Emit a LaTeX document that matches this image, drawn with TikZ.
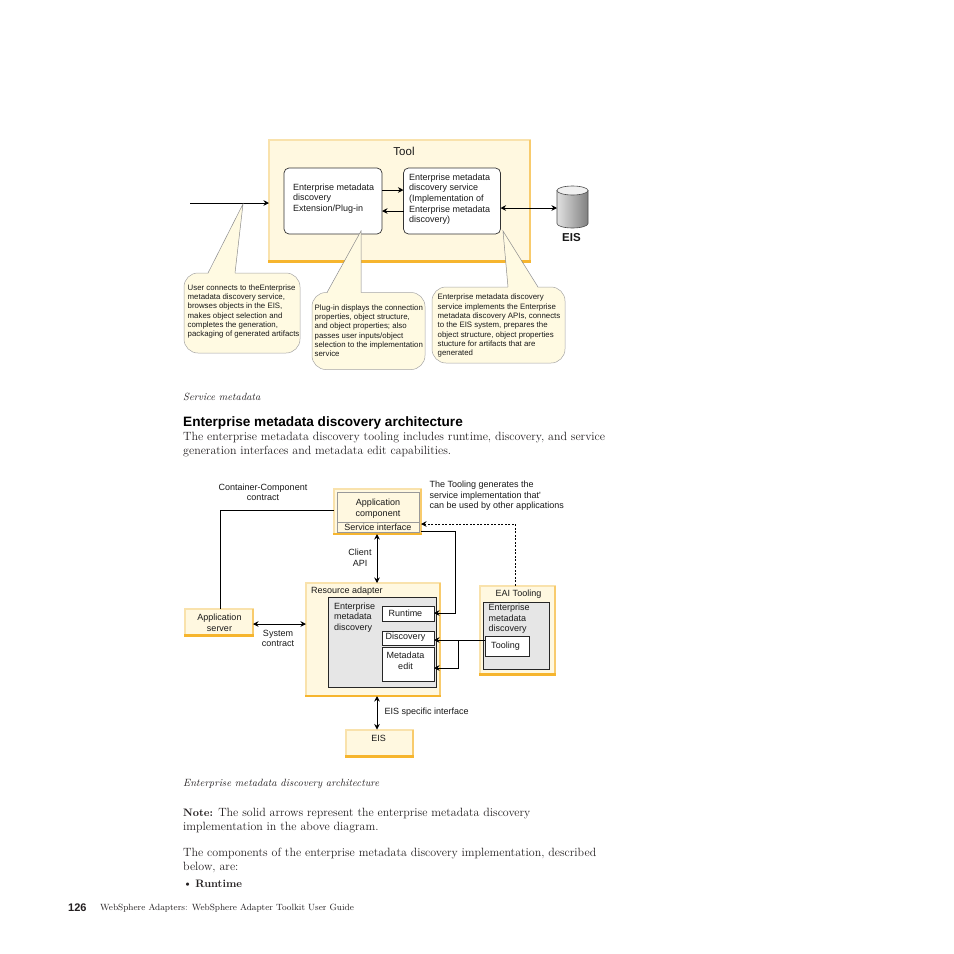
\documentclass[tikz,border=0pt]{standalone}
\usepackage{fontspec}
\usepackage{xcolor}
\usepackage{tikz}
\usetikzlibrary{arrows.meta}
\newfontfamily\diagfont{Liberation Sans}
\definecolor{cream}{HTML}{FFF8E0}
\definecolor{palegold}{HTML}{F9E2AC}
\definecolor{deepgold}{HTML}{F6B52E}
\definecolor{notefill}{HTML}{FFFAE2}
\definecolor{panelgray}{HTML}{E6E6E6}
\definecolor{pagetext}{HTML}{231F20}
\newcommand{\labfont}{\diagfont\fontsize{9}{10.6}\selectfont}
\newcommand{\notefont}{\diagfont\fontsize{7.85}{9.3}\selectfont}
\newcommand{\bodyfont}{\fontsize{11.95}{14}\selectfont}
\tikzset{
	panel/.style={draw=palegold, line width=2pt, fill=cream, inner sep=0pt, outer sep=0pt,
		append after command={
			(\tikzlastnode.south east) edge[palegold!50!deepgold, line width=2pt] (\tikzlastnode.north east)
			(\tikzlastnode.south west) edge[deepgold, line width=2.4pt, line cap=rect] (\tikzlastnode.south east)
		}},
	roundbox/.style={draw=black!80, fill=white, rounded corners=5pt, line width=0.7pt, inner sep=0pt, outer sep=0pt},
	notebox/.style={draw=black!35, fill=notefill, rounded corners=14pt, line width=0.5pt, inner sep=0pt, outer sep=0pt},
	tail/.style={draw=black!45, line width=0.5pt},
	plainbox/.style={draw=black!85, fill=white, line width=0.8pt, inner sep=0pt, outer sep=0pt},
	grayroom/.style={draw=black!85, fill=panelgray, line width=0.8pt, inner sep=0pt, outer sep=0pt},
	lab/.style={anchor=north west, inner sep=0pt, align=left, font=\labfont, text=black!90},
	clab/.style={anchor=center, inner sep=0pt, align=center, font=\labfont, text=black!90},
	notetext/.style={anchor=north west, inner sep=0pt, align=left, font=\notefont, text=black!90},
	pagetxt/.style={anchor=west, inner sep=0pt, align=left, font=\bodyfont, text=pagetext},
	link/.style={line width=0.9pt, black},
	both/.style={link, {Stealth[length=5.5pt,width=5.5pt]}-{Stealth[length=5.5pt,width=5.5pt]}},
	toend/.style={link, -{Stealth[length=5.5pt,width=5.5pt]}},
}
\begin{document}
\begin{tikzpicture}[x=1pt,y=-1pt]
	\useasboundingbox[fill=white] (0,0) rectangle (954,954);
	% top diagram
	\node (tool) [panel, minimum width=261, minimum height=122] at (399.5,200.5) {};
	\node (toolname) [clab, font=\diagfont\fontsize{11.5}{13}\selectfont] at (404,151) {Tool};
	\node (plugin) [roundbox, minimum width=98, minimum height=66] at (333,201) {};
	\node (service) [roundbox, minimum width=97, minimum height=66] at (452,201) {};
	\node (plugintext) [lab] at (293,183.5) {Enterprise metadata\\discovery\\Extension/Plug-in};
	\node (servicetext) [lab] at (409,173.5) {Enterprise metadata\\discovery service\\(Implementation of\\Enterprise metadata\\discovery)};
	\node (eisdb) [minimum width=31, minimum height=42, inner sep=0pt, outer sep=0pt] at (572.5,207) {};
	\shade[left color=black!12, right color=black!50, draw=black!70, line width=0.6pt] (557,190.5) -- (557,223.5) arc[start angle=180, end angle=0, x radius=15.5, y radius=4.5] -- (588,190.5) -- cycle;
	\fill[black!6, draw=black!70, line width=0.6pt] (572.5,190.5) ellipse (15.5 and 4.5);
	\node (eislabel) [clab, font=\diagfont\bfseries\fontsize{11.5}{13}\selectfont] at (571.5,238) {EIS};
	\coordinate (userstart) at (190,203);
	\draw[toend] (userstart) -- (tool.west |- userstart);
	\draw[toend] (plugin.east |- 0,190) -- (service.west |- 0,190);
	\draw[toend] (service.west |- 0,211) -- (plugin.east |- 0,211);
	\draw[both] (service.east |- 0,208) -- (eisdb.west |- 0,208);
	% the three notes
	\node (usernote) [notebox, minimum width=116, minimum height=80] at (242,313) {};
	\coordinate (usertip) at (243,204);
	\fill[notefill] (usertip) -- (208,274) -- (235,274) -- cycle;
	\draw[tail] (208,273) -- (usertip) -- (235,273);
	\node (usernotetext) [notetext] at (187.5,284.5) {User connects to theEnterprise\\metadata discovery service,\\browses objects in the EIS,\\makes object selection and\\completes the generation,\\packaging of generated artifacts};
	\node (plugnote) [notebox, minimum width=113, minimum height=77] at (368.5,331) {};
	\coordinate (plugtip) at (361,231);
	\fill[notefill] (plugtip) -- (327,293.5) -- (361,293.5) -- cycle;
	\draw[tail] (327,292.5) -- (plugtip) -- (361,292.5);
	\node (plugnotetext) [notetext] at (314.5,304.5) {Plug-in displays the connection\\properties, object structure,\\and object properties; also\\passes user inputs/object\\selection to the implementation\\service};
	\node (servnote) [notebox, minimum width=133, minimum height=76] at (498.5,325) {};
	\coordinate (servtip) at (503,231);
	\fill[notefill] (servtip) -- (508,288) -- (538,288) -- cycle;
	\draw[tail] (508,287) -- (servtip) -- (538,287);
	\node (servnotetext) [notetext] at (437.5,294) {Enterprise metadata discovery\\service implements the Enterprise\\metadata discovery APIs, connects\\to the EIS system, prepares the\\object structure, object properties\\stucture for artifacts that are\\generated};
	% page text, upper
	\node (captionone) [pagetxt, font=\fontsize{10.4}{12}\selectfont\itshape] at (183,397) {Service metadata};
	\node (heading) [pagetxt, font=\diagfont\bfseries\fontsize{13.6}{15}\selectfont, text=black] at (183,422.5) {Enterprise metadata discovery architecture};
	\node (para) [pagetxt] at (183,445) {The enterprise metadata discovery tooling includes runtime, discovery, and service\\generation interfaces and metadata edit capabilities.};
	% lower diagram
	\node (appcomp) [panel, minimum width=87, minimum height=45] at (377.5,511.5) {};
	\node (appinner) [draw=black!40, line width=0.7pt, fill=cream, minimum width=82, minimum height=40, inner sep=0pt, outer sep=0pt] at (378,512) {};
	\draw[black!40, line width=0.7pt] (appinner.west |- 0,522) -- (appinner.east |- 0,522);
	\node (appcomptext) [clab] at (378,508.5) {Application\\component};
	\node (siface) [clab] at (378,527) {Service interface};
	\node (adapter) [panel, minimum width=134, minimum height=113] at (373,639.5) {};
	\node (adapterlabel) [lab, anchor=west] at (311,591) {Resource adapter};
	\node (emdroom) [grayroom, minimum width=108, minimum height=90] at (382,642) {};
	\node (emdtext) [lab] at (334,602.5) {Enterprise\\metadata\\discovery};
	\node (runtime) [plainbox, minimum width=52, minimum height=15] at (408,613.5) {};
	\node (runtimetext) [clab] at (405.5,613) {Runtime};
	\node (discovery) [plainbox, minimum width=52, minimum height=14] at (408,638) {};
	\node (discoverytext) [clab] at (405.5,637) {Discovery};
	\node (metaedit) [plainbox, minimum width=52, minimum height=34] at (408,664) {};
	\node (metaedittext) [clab] at (405.5,660.5) {Metadata\\edit};
	\node (eaitool) [panel, minimum width=75, minimum height=89] at (517.5,630) {};
	\node (eailabel) [clab] at (518.5,594) {EAI Tooling};
	\node (eairoom) [grayroom, minimum width=66, minimum height=67] at (516,635.5) {};
	\node (eaitext) [lab] at (488.5,604) {Enterprise\\metadata\\discovery};
	\node (tooling) [plainbox, minimum width=44, minimum height=20] at (507,646) {};
	\node (toolingtext) [clab] at (505.5,646) {Tooling};
	\node (appserver) [panel, minimum width=68, minimum height=27] at (219,622) {};
	\node (appservertext) [clab] at (219.5,622.5) {Application\\server};
	\node (eisbox) [panel, minimum width=67, minimum height=27] at (379.5,743) {};
	\node (eisboxtext) [clab] at (378.5,738) {EIS};
	% connectors
	\draw[link] (appcomp.west |- 0,510) -- (220,510) -- (appserver.north -| 220,0);
	\draw[both] (appcomp.south -| 377,0) -- (adapter.north -| 377,0);
	\draw[both] (appserver.east |- 0,624) -- (adapter.west |- 0,624);
	\draw[both] (adapter.south -| 377,0) -- (eisbox.north -| 377,0);
	\draw[toend] (appcomp.east |- 0,531) -- (455,531) -- (455,613) -- (runtime.east |- 0,613);
	\draw[toend, dash pattern=on 2pt off 1.5pt, line width=1pt] (eaitool.north -| 515,0) -- (515,524) -- (appcomp.east |- 0,524);
	\draw[toend] (tooling.west |- 0,640) -- (discovery.east |- 0,640);
	\draw[toend] (458,640) -- (458,668) -- (metaedit.east |- 0,668);
	% labels on the lower diagram
	\node (cclabel) [clab] at (263,492.3) {Container-Component\\contract};
	\node (genlabel) [lab] at (429.5,481) {The Tooling generates the\\service implementation that'\\can be used by other applications};
	\node (clientapi) [clab] at (360,558) {Client\\API};
	\node (syscontract) [clab] at (278,638.5) {System\\contract};
	\node (eisiface) [lab, anchor=west] at (384.5,712) {EIS specific interface};
	% page text, lower
	\node (captiontwo) [pagetxt, font=\fontsize{10.5}{12}\selectfont\itshape] at (183,784) {Enterprise metadata discovery architecture};
	\node (note) [pagetxt] at (183,820.5) {{\fontsize{10.8}{14}\selectfont\textbf{Note:}} The solid arrows represent the enterprise metadata discovery\\implementation in the above diagram.};
	\node (components) [pagetxt] at (183,860) {The components of the enterprise metadata discovery implementation, described\\below, are:};
	\node (bullet) [pagetxt] at (183,883.5) {\textbullet\hspace{3pt}{\fontsize{10.8}{14}\selectfont\textbf{Runtime}}};
	\node (pagenum) [pagetxt, font=\diagfont\bfseries\fontsize{11}{13}\selectfont] at (68,908) {126};
	\node (footer) [pagetxt, font=\fontsize{9}{11}\selectfont] at (100,908.5) {WebSphere Adapters: WebSphere Adapter Toolkit User Guide};
\end{tikzpicture}
\end{document}
